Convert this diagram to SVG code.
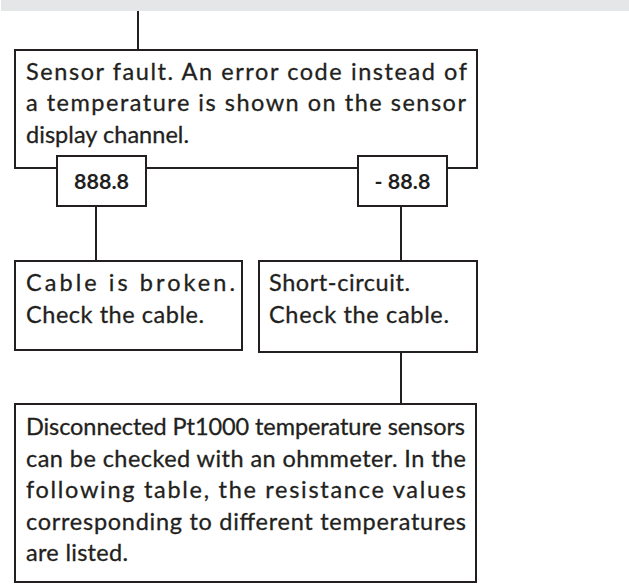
<svg xmlns="http://www.w3.org/2000/svg" width="629" height="584" viewBox="0 0 629 584">
<style>
.box{fill:#fff;stroke:#231f20;stroke-width:2}
.conn line{stroke:#231f20;stroke-width:2}
.t{font-family:Lato,"Open Sans","Liberation Sans",sans-serif;font-size:23.5px;fill:#231f20;stroke:#231f20;stroke-width:0.3}
.c{font-family:Lato,"Open Sans","Liberation Sans",sans-serif;font-size:21.5px;font-weight:bold;fill:#231f20;text-anchor:middle}
</style>
<rect x="1" y="0" width="628" height="11" fill="#e5e6e8"/>
<g class="conn" id="connectors">
<line x1="138" y1="11" x2="138" y2="50"/>
<line x1="96" y1="206" x2="96" y2="261"/>
<line x1="401" y1="206" x2="401" y2="261"/>
<line x1="401" y1="352" x2="401" y2="404"/>
</g>
<g id="fault">
<rect class="box" x="15" y="50" width="462" height="118"/>
<text class="t" x="26" y="79.5" textLength="441" lengthAdjust="spacing">Sensor fault. An error code instead of</text>
<text class="t" x="26" y="111" textLength="440" lengthAdjust="spacing">a temperature is shown on the sensor</text>
<text class="t" x="26" y="142.5" textLength="163" lengthAdjust="spacing">display channel.</text>
</g>
<g id="code1">
<rect class="box" x="57" y="156" width="89" height="50"/>
<text class="c" x="101.5" y="188.5">888.8</text>
</g>
<g id="code2">
<rect class="box" x="358" y="156" width="89" height="50"/>
<text class="c" x="402.5" y="188.5">- 88.8</text>
</g>
<g id="broken">
<rect class="box" x="15" y="261" width="227" height="89"/>
<text class="t" x="26" y="291" textLength="209" lengthAdjust="spacing">Cable is broken.</text>
<text class="t" x="26" y="322.5" textLength="178" lengthAdjust="spacing">Check the cable.</text>
</g>
<g id="short">
<rect class="box" x="259" y="261" width="218" height="91"/>
<text class="t" x="269" y="291" textLength="141" lengthAdjust="spacing">Short-circuit.</text>
<text class="t" x="269" y="322.5" textLength="180" lengthAdjust="spacing">Check the cable.</text>
</g>
<g id="ohm">
<rect class="box" x="15" y="404" width="461" height="178"/>
<text class="t" x="26" y="435" textLength="439" lengthAdjust="spacing">Disconnected Pt1000 temperature sensors</text>
<text class="t" x="26" y="466.5" textLength="440" lengthAdjust="spacing">can be checked with an ohmmeter. In the</text>
<text class="t" x="26" y="498" textLength="440" lengthAdjust="spacing">following table, the resistance values</text>
<text class="t" x="26" y="529.5" textLength="440" lengthAdjust="spacing">corresponding to different temperatures</text>
<text class="t" x="26" y="561" textLength="102" lengthAdjust="spacing">are listed.</text>
</g>
</svg>
